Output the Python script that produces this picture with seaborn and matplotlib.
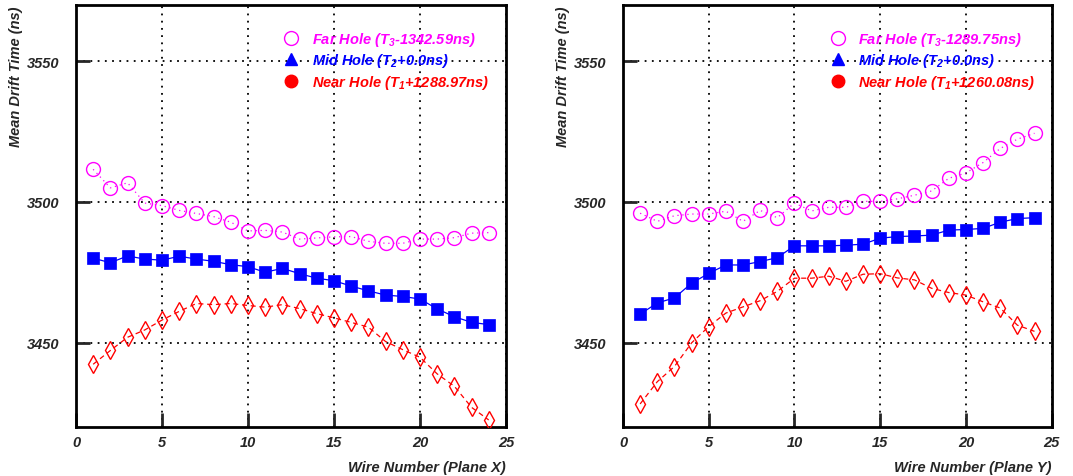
import numpy as np
import pandas as pd
import matplotlib
matplotlib.use("Agg")
import matplotlib.pyplot as plt
from matplotlib.lines import Line2D
import seaborn as sns

wires = list(range(1, 25))

# Plane X
far_x = [3511.6, 3505.0, 3506.8, 3499.6, 3498.7, 3497.0, 3495.9, 3494.8, 3492.8, 3489.7,
         3489.9, 3489.3, 3486.8, 3487.2, 3487.6, 3487.7, 3486.0, 3485.3, 3485.3, 3486.8,
         3486.8, 3487.3, 3488.9, 3489.1]
mid_x = [3480.0, 3478.4, 3480.8, 3479.7, 3479.3, 3480.7, 3479.7, 3478.9, 3477.7, 3477.0,
         3475.0, 3476.4, 3474.5, 3472.9, 3472.0, 3470.1, 3468.4, 3466.9, 3466.4, 3465.5,
         3462.0, 3459.2, 3457.2, 3456.4]
near_x = [3442.3, 3447.2, 3451.9, 3454.5, 3458.0, 3461.1, 3463.9, 3463.5, 3463.9, 3463.2,
          3462.6, 3463.5, 3462.1, 3460.3, 3458.8, 3457.2, 3455.5, 3450.4, 3447.5, 3444.8,
          3438.9, 3434.5, 3427.0, 3422.5]

# Plane Y
far_y = [3496.0, 3493.1, 3495.1, 3495.7, 3495.7, 3496.7, 3493.1, 3497.0, 3494.4, 3499.6,
         3496.8, 3498.1, 3498.1, 3500.2, 3500.2, 3501.1, 3502.4, 3503.9, 3508.4, 3510.3,
         3514.0, 3519.0, 3522.3, 3524.4]
mid_y = [3460.1, 3464.1, 3465.9, 3471.1, 3474.6, 3477.6, 3477.6, 3478.8, 3480.2, 3484.4,
         3484.4, 3484.4, 3484.6, 3485.0, 3487.1, 3487.7, 3487.9, 3488.2, 3490.0, 3490.2,
         3490.6, 3492.8, 3494.1, 3494.4]
near_y = [3428.2, 3436.1, 3441.5, 3449.9, 3455.7, 3460.5, 3462.7, 3464.9, 3468.2, 3472.9,
          3472.9, 3473.6, 3471.8, 3474.3, 3474.5, 3473.0, 3472.3, 3469.3, 3467.8, 3466.9,
          3464.5, 3462.3, 3456.2, 3454.0]

labels_x = [r"Far Hole ($T_3$-1342.59ns)", r"Mid Hole ($T_2$+0.0ns)", r"Near Hole ($T_1$+1288.97ns)"]
labels_y = [r"Far Hole ($T_3$-1289.75ns)", r"Mid Hole ($T_2$+0.0ns)", r"Near Hole ($T_1$+1260.08ns)"]
xlabels = ["Wire Number (Plane X)", "Wire Number (Plane Y)"]

sns.set_style("white")
plt.rcParams['font.family'] = ['Liberation Sans', 'DejaVu Sans']
plt.rcParams['font.weight'] = 'bold'
plt.rcParams['font.style'] = 'italic'
plt.rcParams['mathtext.fontset'] = 'custom'
plt.rcParams['mathtext.rm'] = 'Liberation Sans:bold:italic'
plt.rcParams['mathtext.it'] = 'Liberation Sans:bold:italic'
plt.rcParams['mathtext.bf'] = 'Liberation Sans:bold:italic'

MAG, BLU, RED = '#ff00ff', '#0000ff', '#ff0000'

fig = plt.figure(figsize=(10.73, 4.77), dpi=100)
ax1 = fig.add_axes([0.0708, 0.1027, 0.4007, 0.8847])
ax2 = fig.add_axes([0.5806, 0.1027, 0.3995, 0.8847])

panels = [(ax1, far_x, mid_x, near_x, labels_x, xlabels[0]),
          (ax2, far_y, mid_y, near_y, labels_y, xlabels[1])]

for ax, far, mid, near, labs, xl in panels:
    df = pd.DataFrame({"wire": wires, "far": far, "mid": mid, "near": near})
    ax.set_xlim(0, 25)
    ax.set_ylim(3420, 3570)
    ax.set_xticks([0, 5, 10, 15, 20, 25])
    ax.set_yticks([3450, 3500, 3550])
    ax.grid(True, color='black', linestyle=(0, (1, 3)), linewidth=1.3, zorder=0)
    ax.set_axisbelow(True)
    sns.lineplot(data=df, x="wire", y="far", ax=ax, color=MAG, linestyle=(0, (1, 3)), linewidth=0.9,
                 marker='o', markersize=10, markerfacecolor='none', markeredgecolor=MAG,
                 markeredgewidth=1.0, zorder=3)
    sns.lineplot(data=df, x="wire", y="mid", ax=ax, color=BLU, linestyle='-', linewidth=0.9,
                 marker='s', markersize=8, markerfacecolor=BLU, markeredgecolor=BLU,
                 markeredgewidth=0.5, zorder=3)
    sns.lineplot(data=df, x="wire", y="near", ax=ax, color=RED, linestyle=(0, (4, 3)), linewidth=0.9,
                 marker='d', markersize=9, markerfacecolor='none', markeredgecolor=RED,
                 markeredgewidth=1.0, zorder=3)
    for s in ax.spines.values():
        s.set_linewidth(2)
        s.set_color('black')
    ax.tick_params(axis='both', direction='in', length=10, width=2, labelsize=10.5,
                   left=True, bottom=True, top=False, right=False)
    ax.tick_params(axis='x', pad=6)
    ax.tick_params(axis='y', pad=12)
    for t in ax.get_xticklabels() + ax.get_yticklabels():
        t.set_fontweight('bold'); t.set_fontstyle('italic')
    ax.set_xlabel(xl, fontsize=10.5, fontweight='bold', fontstyle='italic', loc='right', labelpad=8)
    ax.set_ylabel("Mean Drift Time (ns)", fontsize=10.5, fontweight='bold', fontstyle='italic',
                  loc='top')
    ax.yaxis.set_label_coords(-0.123, 1.0)
    handles = [Line2D([], [], linestyle='none', marker='o', markersize=10, markerfacecolor='none',
                      markeredgecolor=MAG, markeredgewidth=1.0),
               Line2D([], [], linestyle='none', marker='^', markersize=9, color=BLU),
               Line2D([], [], linestyle='none', marker='o', markersize=9, color=RED)]
    leg = ax.legend(handles, labs, loc='upper left', bbox_to_anchor=(0.453, 0.955), frameon=False,
                    handletextpad=0.42, labelspacing=0.25, borderaxespad=0,
                    prop={'weight': 'bold', 'style': 'italic', 'size': 10.5})
    for txt, c in zip(leg.get_texts(), [MAG, BLU, RED]):
        txt.set_color(c)

fig.savefig("out.png", dpi=100)
